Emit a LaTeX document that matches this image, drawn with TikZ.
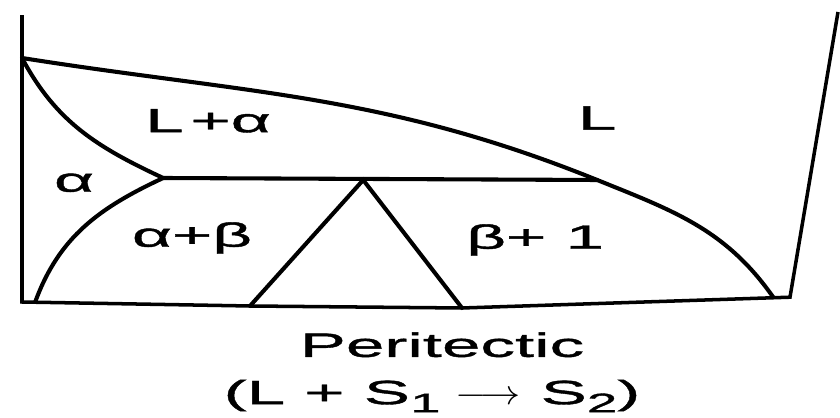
\documentclass[tikz,border=0pt]{standalone}
\usepackage{fontspec}
\setmainfont[FakeStretch=2.05,FakeBold=1.2]{Liberation Sans}
\newcommand{\lowidx}[1]{\raisebox{-0.45ex}{\fontsize{19}{19}\selectfont #1}}
\newcommand{\yields}{\hspace{0.45em}\scalebox{1.15}[1]{$\longrightarrow$}\hspace{0.6em}}
\begin{document}
\begin{tikzpicture}[x=1cm,y=1cm,
  curve/.style={line width=2.9pt, line cap=round},
  axis/.style={line width=2.5pt},
  region/.style={font=\fontsize{24}{28}\selectfont, inner sep=0pt}]
\useasboundingbox (0,0) rectangle (21,10.45);
% corners of the frame
\coordinate (tl) at (0.55,10.07);
\coordinate (bl) at (0.55,2.9);
\coordinate (br) at (19.75,3.02);
\coordinate (tr) at (20.95,10.15);
% points on the lines
\coordinate (a) at (0.55,9.0);
\coordinate (q) at (4.08,6.0);
\coordinate (p) at (14.93,5.95);
\coordinate (b) at (19.33,3.02);
\coordinate (s) at (0.88,2.9);
\coordinate (t) at (9.08,5.95);
\coordinate (f1) at (6.25,2.8);
\coordinate (f2) at (11.55,2.75);
\draw[axis] (tl) -- (bl) -- (f1) -- (f2) -- (br) -- (tr);
\draw[curve] (a) to[out=-9,in=158] (p) to[out=-22,in=125] (b);
\draw[curve] (a) to[out=-62,in=155] (q);
\draw[curve] (q) -- (p);
\draw[curve] (q) to[out=205,in=70] (s);
\draw[curve] (f1) -- (t) -- (f2);
\node[region] (la) at (5.2,7.43) {L\hspace{0.2em}+α};
\node[region] (l) at (14.93,7.5) {L};
\node[region] (al) at (1.85,5.88) {α};
\node[region] (ab) at (4.8,4.5) {α+β};
\node[region] (bl1) at (13.38,4.45) {β+ 1};
\node[region] (name) at (11.05,1.83) {Peritectic};
\node[region] (react) at (10.8,0.55) {(L + S\lowidx{1}\yields S\lowidx{2})};
\end{tikzpicture}
\end{document}
